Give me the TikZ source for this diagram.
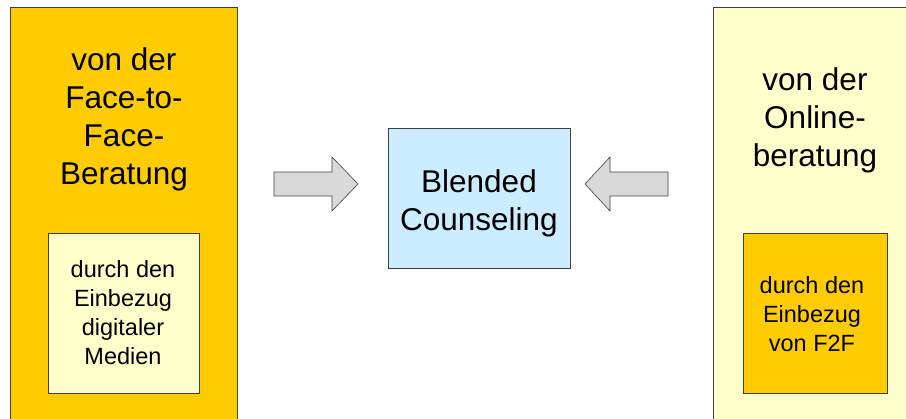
\documentclass[tikz,border=0pt]{standalone}
\usepackage{fontspec}
\setmainfont{Liberation Sans}
\definecolor{orangeY}{HTML}{FFCC00}
\definecolor{paleY}{HTML}{FFFFCC}
\definecolor{paleB}{HTML}{CCECFF}
\definecolor{arrG}{HTML}{D9D9D9}
\definecolor{edge}{HTML}{404040}
\tikzset{
  box/.style={draw=edge, line width=0.8pt, rectangle, inner sep=0pt, anchor=north west},
  bigtxt/.style={font=\fontsize{31.5}{38.3}\selectfont, align=center, anchor=base, inner sep=0pt},
  smalltxt/.style={font=\fontsize{23.5}{29}\selectfont, align=center, anchor=base, inner sep=0pt},
  blockarrow/.style={draw=edge, line width=0.6pt, fill=arrG, line join=miter}
}
\begin{document}
\begin{tikzpicture}[x=1pt,y=-1pt]
\useasboundingbox (0,0) rectangle (906,419);
\clip (0,0) rectangle (906,419);
\fill[white] (0,0) rectangle (906,419);
% big boxes
\node[box, fill=orangeY, minimum width=227pt, minimum height=430pt] (leftbox) at (10,7) {};
\node[box, fill=paleY, minimum width=210pt, minimum height=430pt] (rightbox) at (713,7) {};
% inner boxes
\node[box, fill=paleY, minimum width=151pt, minimum height=160pt] (leftinner) at (48,233) {};
\node[box, fill=orangeY, minimum width=144pt, minimum height=160pt] (rightinner) at (743,233) {};
% centre box
\node[box, fill=paleB, minimum width=182pt, minimum height=140pt] (centre) at (388,128) {};
% texts (base anchor = baseline of last line)
\node[bigtxt] (lefttxt) at (124,185) {von der\\Face-to-\\Face-\\Beratung};
\node[bigtxt] (righttxt) at (815,167) {von der\\Online-\\beratung};
\node[bigtxt] (centretxt) at (479,231) {Blended\\Counseling};
\node[smalltxt] (leftinnertxt) at (123,365) {durch den\\Einbezug\\digitaler\\Medien};
\node[smalltxt] (rightinnertxt) at (812,352) {durch den\\Einbezug\\von F2F};
% block arrows
\draw[blockarrow] (274,172) -- (332,172) -- (332,157) -- (358,184) -- (332,211) -- (332,196) -- (274,196) -- cycle;
\draw[blockarrow] (668,172) -- (610,172) -- (610,157) -- (585,184) -- (610,211) -- (610,196) -- (668,196) -- cycle;
\end{tikzpicture}
\end{document}
